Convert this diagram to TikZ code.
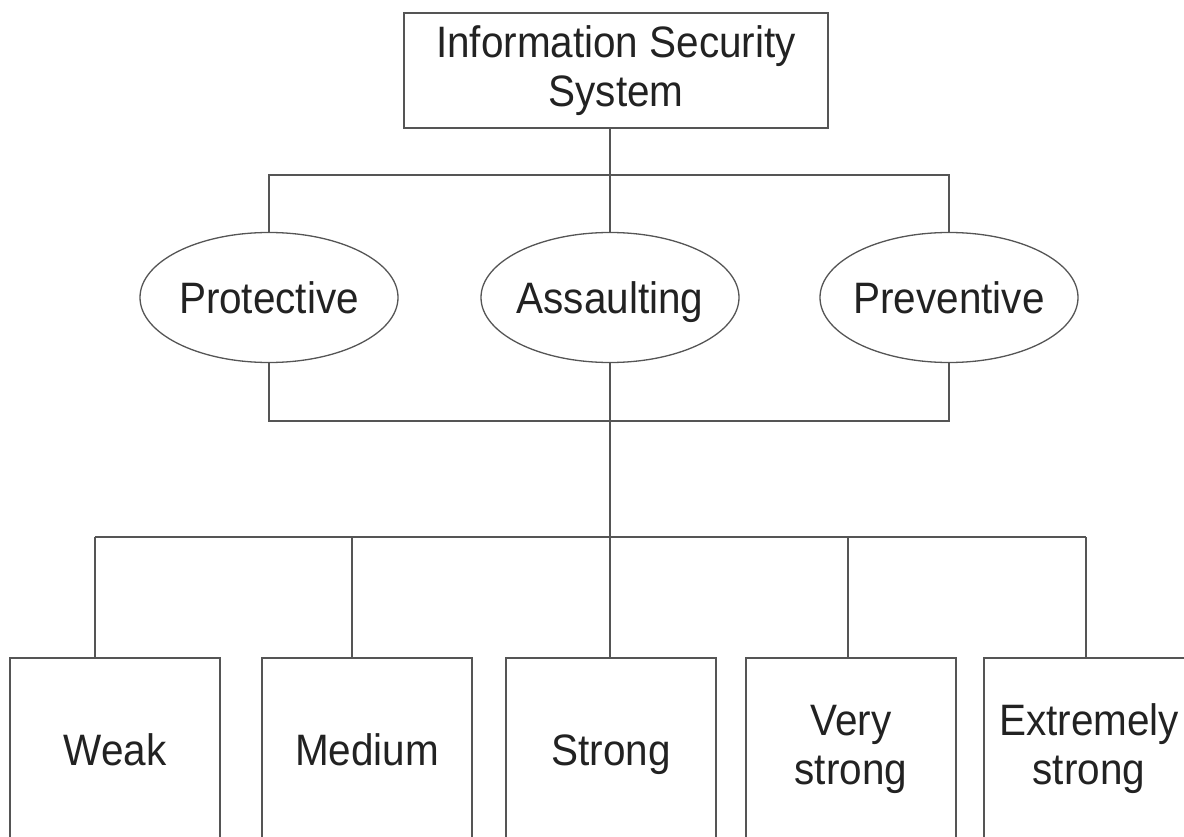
\documentclass[tikz,border=0pt]{standalone}
\usepackage{fontspec}
\setmainfont{Liberation Sans}[FakeStretch=0.92]
\usetikzlibrary{shapes.geometric}
\definecolor{linegray}{HTML}{555555}
\definecolor{textgray}{HTML}{222222}
\begin{document}
\begin{tikzpicture}[x=1pt,y=-1pt,
  ln/.style={draw=linegray, line width=1.3pt},
  lbl/.style={font=\fontsize{44}{49}\selectfont, align=center, text=textgray},
  oneline/.style={text height=32pt, text depth=0pt},
  topbox/.style={ln, lbl, rectangle, minimum width=424pt, minimum height=115pt, inner sep=0pt},
  oval/.style={ln, lbl, oneline, ellipse, minimum width=258pt, minimum height=130pt, inner xsep=-10pt, inner ysep=0pt},
  lvlbox/.style={ln, lbl, rectangle, minimum width=210pt, minimum height=182pt, inner sep=0pt},
  wire/.style={draw=linegray, line width=1.3pt}]
\useasboundingbox (0,0) rectangle (1184,837);
\clip (0,0) rectangle (1184,837);
\node[topbox] (iss) at (616,70.5) {Information Security\\System};
\node[oval] (pro) at (269,297.5) {Protective};
\node[oval] (ass) at (610,297.5) {Assaulting};
\node[oval] (pre) at (949,297.5) {Preventive};
\node[lvlbox, oneline] (wk) at (115,749) {Weak};
\node[lvlbox, oneline] (md) at (367,749) {Medium};
\node[lvlbox, oneline] (st) at (611,749) {Strong};
\node[lvlbox] (vs) at (851,749) {Very\\strong};
\node[lvlbox] (es) at (1089,749) {Extremely\\strong};
\coordinate (t1) at (269,175);
\coordinate (t2) at (610,175);
\coordinate (t3) at (949,175);
\coordinate (b1) at (269,421);
\coordinate (b3) at (949,421);
\coordinate (c1) at (95,537);
\coordinate (c2) at (352,537);
\coordinate (c3) at (610,537);
\coordinate (c4) at (848,537);
\coordinate (c5) at (1086,537);
\draw[wire] (iss.south -| t2) -- (ass.north);
\draw[wire] (pro.north) -- (t1) -- (t3) -- (pre.north);
\draw[wire] (pro.south) -- (b1) -- (b3) -- (pre.south);
\draw[wire] (ass.south) -- (c3);
\draw[wire] (c1) -- (c5);
\draw[wire] (c1) -- (c1 |- wk.north);
\draw[wire] (c2) -- (c2 |- md.north);
\draw[wire] (c3) -- (c3 |- st.north);
\draw[wire] (c4) -- (c4 |- vs.north);
\draw[wire] (c5) -- (c5 |- es.north);
\end{tikzpicture}
\end{document}
